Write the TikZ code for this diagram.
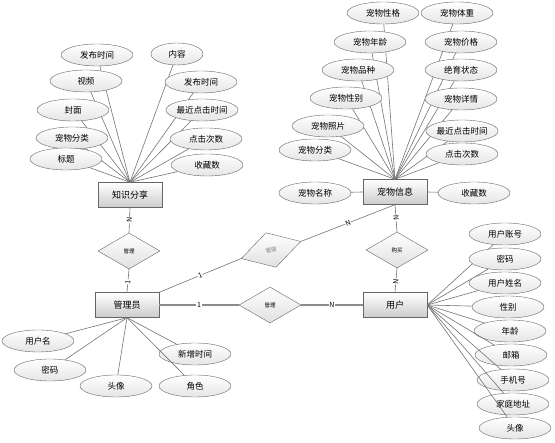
\documentclass[tikz,border=0pt]{standalone}
\usepackage{fontspec}
\newfontfamily\cjk{Noto Sans CJK SC}
\usetikzlibrary{positioning,shapes.geometric}
\newcommand{\edgegray}{black!55}
\newcommand{\boxgray}{black!60}
\tikzset{
    link/.style = { draw=\edgegray, line width=0.6pt, },
    heavy/.style = { draw=black!45, line width=1.5pt, },
    attrib/.style = { ellipse,draw=\boxgray,top color=white,bottom color=black!10,
        font=\cjk\fontsize{8.5}{9}\selectfont,minimum width=72pt,minimum height=22pt,inner sep=0, },
    entity/.style = { rectangle,draw=\boxgray,top color=white,bottom color=black!20,
        font=\cjk\fontsize{9}{10}\selectfont,minimum width=64pt,minimum height=25pt, },
    relation/.style = { diamond,draw=\boxgray,top color=white,bottom color=black!12,
        font=\cjk\fontsize{5.5}{6}\selectfont,minimum width=62pt,minimum height=36pt,inner sep=0, },
    card/.style = { font=\cjk\fontsize{7}{7}\selectfont,fill=white,inner sep=0.6pt, },
}
\newcommand{\attr}[5][]{
    \node [attrib,#1] (#2) at (#3) {#4};
    \draw [link] (#5) -- (#2);
}

\begin{document}
\begin{tikzpicture}[x=1pt,y=-1pt]

    \useasboundingbox (0,0) rectangle (555,443);

    % entities
    \node [entity] (zs) at (130,195) {知识分享};
    \node [entity] (cw) at (395,192) {宠物信息};
    \node [entity] (gl) at (127,305) {管理员};
    \node [entity] (yh) at (395,305) {用户};

    % relations
    \node [relation] (r1) at (129,251) {管理};
    \node [relation] (r2) at (397,250) {购买};
    \node [relation] (r3) at (270,305) {管理};
    \node [relation,rotate=16,text=black!50] (r4) at (271,250) {管理};

    \draw [link] (zs.south) -- node [card,sloped] {N} (r1.north);
    \draw [link] (r1.south) -- node [card,sloped,pos=0.55] {1} (gl.north);
    \draw [link] (cw.south) -- node [card,sloped] {N} (r2.north);
    \draw [link] (r2.south) -- node [card,sloped,pos=0.55] {N} (yh.north);
    \draw [heavy] (gl.east) -- node [card] {1} (r3.west);
    \draw [heavy] (r3.east) -- node [card] {N} (yh.west);
    \draw [link] (gl.north east) -- node [card,sloped] {1} (r4.west);
    \draw [link] (r4.east) -- node [card,sloped,pos=0.5] {N} (cw.south);

    % knowledge sharing
    \attr{zs1}{97,55}{发布时间}{zs.north}
    \attr[minimum width=52pt]{zs2}{177,54}{内容}{zs.north}
    \attr{zs3}{86,81}{视频}{zs.north}
    \attr{zs4}{201,82}{发布时间}{zs.north}
    \attr{zs5}{73,110}{封面}{zs.north}
    \attr{zs6}{202,110}{最近点击时间}{zs.north}
    \attr{zs7}{72,138}{宠物分类}{zs.north}
    \attr{zs8}{206,139}{点击次数}{zs.north}
    \attr{zs9}{66,159}{标题}{zs.north}
    \attr{zs10}{207,165}{收藏数}{zs.north}

    % pet info
    \attr{cw1}{383,13}{宠物性格}{cw.north}
    \attr{cw2}{457,13}{宠物体重}{cw.north}
    \attr{cw3}{370,42}{宠物年龄}{cw.north}
    \attr{cw4}{461,42}{宠物价格}{cw.north}
    \attr{cw5}{358,70}{宠物品种}{cw.north}
    \attr{cw6}{461,70}{绝育状态}{cw.north}
    \attr{cw7}{346,98}{宠物性别}{cw.north}
    \attr{cw8}{461,99}{宠物详情}{cw.north}
    \attr{cw9}{328,126}{宠物照片}{cw.north}
    \attr{cw10}{462,131}{最近点击时间}{cw.north}
    \attr{cw11}{315,150}{宠物分类}{cw.north}
    \attr{cw12}{462,154}{点击次数}{cw.north}
    \attr{cw13}{315,193}{宠物名称}{cw.west}
    \attr{cw14}{474,193}{收藏数}{cw.east}

    % admin
    \attr{gl1}{38,341}{用户名}{gl.south}
    \attr{gl2}{50,370}{密码}{gl.south}
    \attr{gl3}{116,386}{头像}{gl.south}
    \attr{gl4}{195,354}{新增时间}{gl.south}
    \attr{gl5}{195,386}{角色}{gl.south}

    % user
    \attr{yh1}{505,234}{用户账号}{yh.east}
    \attr{yh2}{505,259}{密码}{yh.east}
    \attr{yh3}{505,283}{用户姓名}{yh.east}
    \attr{yh4}{508,307}{性别}{yh.east}
    \attr{yh5}{510,331}{年龄}{yh.east}
    \attr{yh6}{511,355}{邮箱}{yh.east}
    \attr{yh7}{513,380}{手机号}{yh.east}
    \attr{yh8}{513,404}{家庭地址}{yh.east}
    \attr{yh9}{515,428}{头像}{yh.east}

\end{tikzpicture}
\end{document}
